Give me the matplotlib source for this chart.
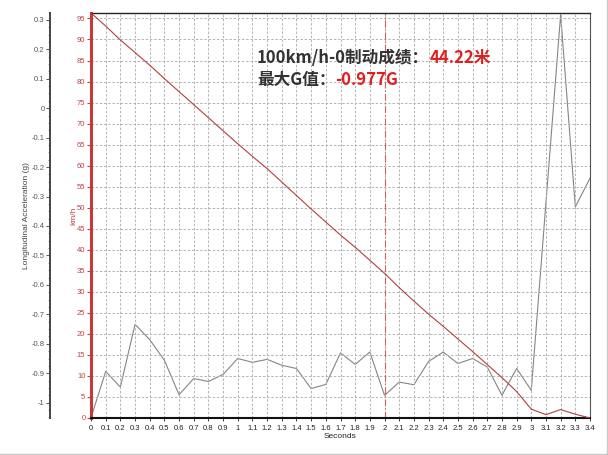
import matplotlib
matplotlib.use("Agg")
import matplotlib.pyplot as plt
from matplotlib.lines import Line2D
from matplotlib.ticker import FixedLocator, MultipleLocator

plt.rcParams["font.family"] = ["Liberation Sans", "DejaVu Sans"]

# brake test data, sampled every 0.1 s
TIME_S = [0.0, 0.1, 0.2, 0.3, 0.4, 0.5, 0.6, 0.7, 0.8, 0.9,
          1.0, 1.1, 1.2, 1.3, 1.4, 1.5, 1.6, 1.7, 1.8, 1.9,
          2.0, 2.1, 2.2, 2.3, 2.4, 2.5, 2.6, 2.7, 2.8, 2.9,
          3.0, 3.1, 3.2, 3.3, 3.4]
SPEED_KMH = [96.3, 93.2, 89.9, 86.9, 83.9, 80.7, 77.6, 74.5, 71.4, 68.3,
             65.2, 62.2, 59.3, 56.1, 52.9, 49.7, 46.6, 43.5, 40.6, 37.5,
             34.4, 31.0, 27.8, 24.7, 21.8, 18.8, 15.8, 12.7, 9.6, 6.3,
             2.1, 0.8, 2.0, 0.9, 0.0]
ACCEL_G = [-1.051, -0.894, -0.947, -0.734, -0.786, -0.856, -0.973, -0.918, -0.928, -0.904,
           -0.850, -0.863, -0.853, -0.873, -0.884, -0.952, -0.938, -0.831, -0.870, -0.828,
           -0.975, -0.930, -0.939, -0.860, -0.828, -0.867, -0.850, -0.879, -0.975, -0.884,
           -0.958, -0.320, 0.317, -0.335, -0.238]

SPEED_TICKS = list(range(0, 100, 5))
ACCEL_TICKS = [-1.0, -0.9, -0.8, -0.7, -0.6, -0.5, -0.4, -0.3, -0.2, -0.1, 0.0, 0.1, 0.2, 0.3]
MARK_TIME = 2.0

RED = "#c23a3a"
RED_TXT = "#c04444"
GRAY = "#858585"
GRID = "#b4b4b4"

fig = plt.figure(figsize=(6.08, 4.55), dpi=100)
W, H = 608, 455
ax = fig.add_axes([91 / W, 1 - 418 / H, (590 - 91) / W, (418 - 13) / H])
ax2 = ax.twinx()

# speed axis (inner, red)
ax.plot(TIME_S, SPEED_KMH, color="#b04040", lw=0.8, zorder=3)
ax.axvline(MARK_TIME, color="#d06060", lw=0.8, ls=(0, (6, 2, 1, 2)), zorder=2)
ax.set_xlim(0, 3.4)
ax.set_ylim(0, 96.3)
ax.set_yticks(SPEED_TICKS)
ax.set_xticks(TIME_S)
ax.set_xticklabels([f"{t:g}" for t in TIME_S])
ax.tick_params(axis="y", colors=RED_TXT, labelsize=5.5, length=3, width=0.8, pad=1)
ax.tick_params(axis="x", colors="#222222", labelsize=5.5, length=2, width=0.6, pad=3)
ax.grid(True, color=GRID, lw=0.7, ls=(0, (2.5, 1.8)))
ax.set_xlabel("Seconds", fontsize=6, color="#222222", labelpad=1)
ax.set_ylabel("km/h", fontsize=6, color=RED_TXT, labelpad=0)

ax.spines["left"].set_color(RED)
ax.spines["left"].set_linewidth(2.2)
ax.spines["bottom"].set_color("#111111")
ax.spines["bottom"].set_linewidth(1.5)
ax.spines["top"].set_color("#222222")
ax.spines["top"].set_linewidth(1.0)
ax.spines["right"].set_color("#555555")
ax.spines["right"].set_linewidth(0.8)

# acceleration axis (outer, gray)
ax2.plot(TIME_S, ACCEL_G, color=GRAY, lw=0.8, zorder=2)
ax2.set_ylim(-1.052, 0.323)
ax2.yaxis.set_ticks_position("left")
ax2.yaxis.set_label_position("left")
ax2.spines["left"].set_visible(True)
ax2.spines["left"].set_position(("outward", 29.5))
ax2.spines["left"].set_color("#444444")
ax2.spines["left"].set_linewidth(1.4)
for side in ("right", "top", "bottom"):
    ax2.spines[side].set_visible(False)
ax2.yaxis.set_major_locator(FixedLocator(ACCEL_TICKS))
ax2.yaxis.set_minor_locator(MultipleLocator(0.025))
ax2.set_yticklabels([f"{v:g}" for v in ACCEL_TICKS])
ax2.tick_params(axis="y", which="major", colors="#555555", labelsize=5.5, length=3, width=0.7, pad=1)
ax2.tick_params(axis="y", which="minor", colors="#777777", length=1.5, width=0.5)
ax2.set_ylabel("Longitudinal Acceleration (g)", fontsize=6, color="#444444", labelpad=1)

# speed axis drawn on top of acceleration trace
ax.set_zorder(ax2.get_zorder() + 1)
ax.patch.set_visible(False)

# result annotation, two colours per line
cjk = ["Noto Sans CJK SC", "DejaVu Sans"]
fig.canvas.draw()
renderer = fig.canvas.get_renderer()
lines = [("100km/h-0制动成绩：", "44.22米", 1 - 63.5 / H),
         ("最大G值：", "-0.977G", 1 - 85 / H)]
for head, value, y in lines:
    t1 = fig.text(257 / W, y, head, fontsize=12, fontweight="bold", color="#333333",
                  family=cjk, va="baseline", ha="left")
    bb = t1.get_window_extent(renderer)
    fig.text(bb.x1 / W, y, value, fontsize=12, fontweight="bold", color="#e02020",
             family=cjk, va="baseline", ha="left")

# light frame on right and bottom edges of the screenshot
fig.add_artist(Line2D([0, 1 - 1.5 / W, 1 - 1.5 / W], [1.5 / H, 1.5 / H, 1],
                      transform=fig.transFigure, color="#c8c8c8", lw=1.0))

fig.savefig("out.png", dpi=100)
